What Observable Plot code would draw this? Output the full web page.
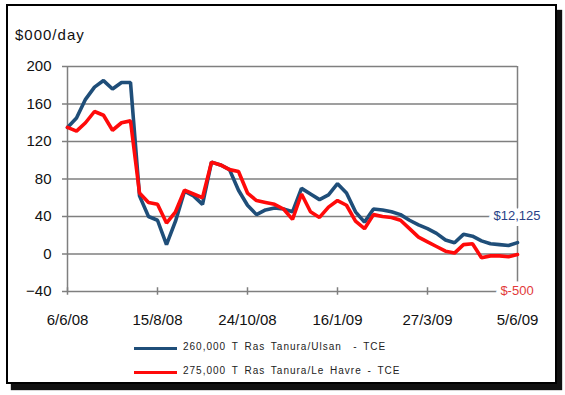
<!DOCTYPE html>
<html>
<head>
<meta charset="utf-8">
<script src="https://cdn.jsdelivr.net/npm/d3@7"></script>
<script src="https://cdn.jsdelivr.net/npm/@observablehq/plot@0.6"></script>
<style>
  html, body { margin: 0; padding: 0; background: #fff; }
  #wrap { position: relative; width: 565px; height: 395px; overflow: hidden; font-family: "Liberation Sans", Arial, sans-serif; }
  #frame { position: absolute; left: 6px; top: 4px; width: 547px; height: 376px; border: 2px solid #000; box-shadow: 5px 6px 1px #111; background: #fff; }
  #title { position: absolute; left: 15px; top: 26px; font-size: 15px; letter-spacing: 1px; color: #111; }
  #chart { position: absolute; left: 0; top: 0; }
  .leg { position: absolute; left: 134px; height: 12px; }
  .leg .sw { position: absolute; left: 0; top: 5px; width: 43px; height: 3px; }
  .leg .lb { position: absolute; left: 49px; top: -1px; white-space: pre; font-size: 10px; letter-spacing: 1px; word-spacing: 2px; color: #222; }
</style>
</head>
<body>
<div id="wrap">
  <div id="frame"></div>
  <div id="title">$000/day</div>
  <div id="chart"></div>
  <div id="legend"></div>
</div>
<script>
// Weekly time-charter-equivalent earnings, $000/day, 6/6/08 – 5/6/09
const dateLabels = ["6/6/08", "15/8/08", "24/10/08", "16/1/09", "27/3/09", "5/6/09"];
const seriesNames = ["260,000 T Ras Tanura/Ulsan  - TCE", "275,000 T Ras Tanura/Le Havre - TCE"];
const seriesColors = ["#1f4e79", "#ff0a0a"];

const ulsan = [135, 145, 165, 178, 185, 176, 183, 183, 62, 40,
               36, 10, 35, 67, 62, 53, 98, 95, 90, 68,
               52, 42, 47, 49, 48, 45, 70, 64, 58, 63,
               75, 65, 45, 34, 48, 47, 45, 42, 36, 31,
               27, 22, 15, 12, 21, 19, 14, 11, 10, 9,
               12.125];
const leHavre = [135, 131, 140, 152, 148, 132, 140, 142, 65, 55,
                 53, 33, 45, 68, 64, 60, 98, 95, 90, 88,
                 65, 57, 55, 53, 48, 37, 64, 45, 39, 50,
                 57, 52, 35, 27, 42, 40, 39, 36, 27, 18,
                 13, 8, 3, 1, 10, 11, -4, -2, -2, -3,
                 -0.5];
const yTicks = [-40, 0, 40, 80, 120, 160, 200];

// one x step per weekly observation; date labels every 10 weeks
const xTicks = dateLabels.map((_, i) => i * 10);
const last = ulsan.length - 1;
const money = v => "$" + Math.round(v * 1000).toLocaleString("en-US");

const endLabels = [
  {x: last, y: 40, text: money(ulsan[last]), fill: "#2a3f86", dy: -2},
  {x: last, y: -40, text: money(leHavre[last]), fill: "#e23a3a", dy: -3}
];

const chart = Plot.plot({
  width: 565,
  height: 395,
  marginLeft: 67,
  marginRight: 48,
  marginTop: 66,
  marginBottom: 104,
  style: {fontFamily: "'Liberation Sans', Arial, sans-serif", fontSize: "15px", color: "#111", background: "transparent"},
  x: {domain: [0, last]},
  y: {domain: [-40, 200]},
  marks: [
    Plot.gridY(yTicks, {stroke: "#7f7f7f", strokeOpacity: 1, strokeWidth: 1.5}),
    Plot.ruleX([0, last], {stroke: "#7f7f7f", strokeWidth: 1.5}),
    Plot.axisY(yTicks, {tickSize: 5, tickPadding: 11, stroke: "#7f7f7f", strokeWidth: 1.5, label: null, letterSpacing: 0.6}),
    // short tick marks crossing the bottom line
    Plot.ruleX(xTicks, {x: d => d, y1: -44, y2: -36, stroke: "#7f7f7f", strokeWidth: 1.5}),
    Plot.axisX(xTicks, {tickSize: 0, tickPadding: 23, label: null,
      tickFormat: i => dateLabels[i / 10], letterSpacing: 0.8}),
    Plot.lineY(ulsan, {x: (d, i) => i, y: d => d, stroke: seriesColors[0], strokeWidth: 3.6, strokeLinejoin: "miter"}),
    Plot.lineY(leHavre, {x: (d, i) => i, y: d => d, stroke: seriesColors[1], strokeWidth: 3.6, strokeLinejoin: "miter"}),
    Plot.text(endLabels, {x: "x", y: "y", text: "text", fill: "fill", dy: "dy",
      stroke: "white", strokeWidth: 9, fontSize: 13, letterSpacing: 0.6})
  ]
});
document.getElementById("chart").appendChild(chart);

// legend under the plot
const legend = document.getElementById("legend");
seriesNames.forEach((name, k) => {
  const row = document.createElement("div");
  row.className = "leg";
  row.style.top = (342 + k * 24) + "px";
  row.innerHTML = `<div class="sw" style="background:${seriesColors[k]}"></div><div class="lb"></div>`;
  row.querySelector(".lb").textContent = name;
  legend.appendChild(row);
});
</script>
</body>
</html>
